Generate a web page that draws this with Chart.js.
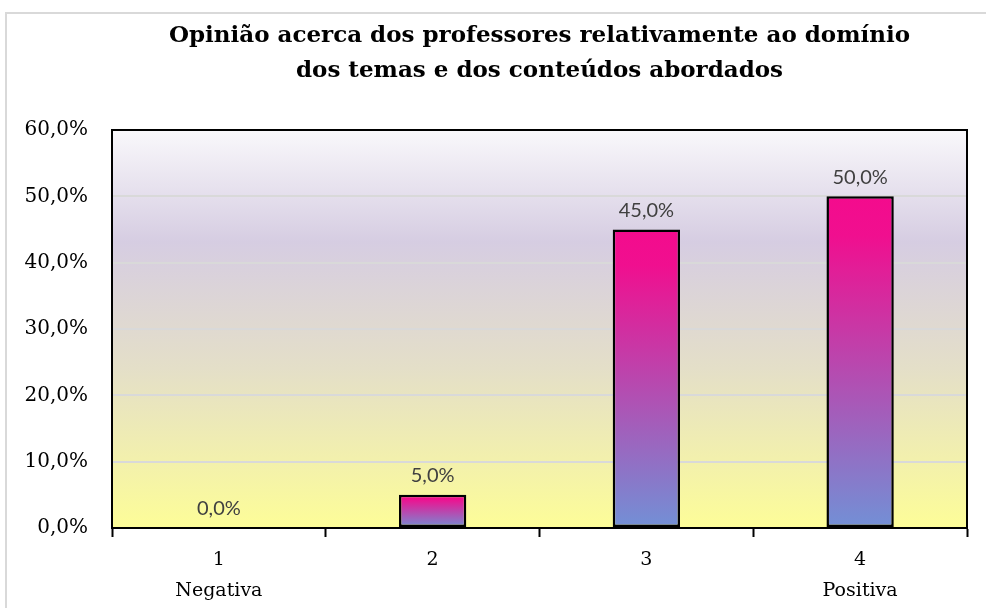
<!DOCTYPE html>
<html>
<head>
<meta charset="utf-8">
<script src="https://cdn.jsdelivr.net/npm/chart.js@4.4.1/dist/chart.umd.min.js"></script>
<style>
    html, body { margin: 0; padding: 0; background: #fff; }
    #wrap { position: relative; width: 986px; height: 608px; }
</style>
</head>
<body>
<div id="wrap"><canvas id="myChart"></canvas></div>
<script>
// data
let categories = [['1', 'Negativa'], ['2', ''], ['3', ''], ['4', 'Positiva']];
let percentages = [0, 5, 45, 50];
let yTicks = [0, 10, 20, 30, 40, 50, 60];
let chartTitle = ['Opinião acerca dos professores relativamente ao domínio', 'dos temas e dos conteúdos abordados'];

function formatPercent(v) {
    return v.toFixed(1).replace('.', ',') + '%';
}

function barGradient(context) {
    let chart = context.chart;
    let yScale = chart.scales.y;
    if (!yScale || !chart.chartArea) {
        return '#c0309f';
    }
    let top = yScale.getPixelForValue(context.raw);
    let bottom = yScale.getPixelForValue(0);
    if (bottom - top < 1) {
        return '#f20c8e';
    }
    let g = chart.ctx.createLinearGradient(0, top, 0, bottom);
    g.addColorStop(0, '#f40b8d');
    g.addColorStop(0.12, '#f00f8f');
    g.addColorStop(1, '#7290d6');
    return g;
}

const backgroundPlugin = {
    id: 'plotBackground',
    beforeDraw(chart) {
        let ctx = chart.ctx;
        let a = chart.chartArea;
        ctx.save();
        // outer frame of the chart object
        ctx.strokeStyle = '#d9d9d9';
        ctx.lineWidth = 2;
        ctx.strokeRect(6, 13, 990, 610);
        let g = ctx.createLinearGradient(0, a.top, 0, a.bottom);
        g.addColorStop(0, '#f9f8fb');
        g.addColorStop(0.28, '#d6cde2');
        g.addColorStop(0.6, '#e4dfc8');
        g.addColorStop(1, '#fdfd98');
        ctx.fillStyle = g;
        ctx.fillRect(a.left, a.top, a.right - a.left, a.bottom - a.top);
        ctx.restore();
    },
    afterDraw(chart) {
        let ctx = chart.ctx;
        let a = chart.chartArea;
        ctx.save();
        ctx.strokeStyle = '#000';
        ctx.lineWidth = 2;
        ctx.strokeRect(a.left, a.top, a.right - a.left, a.bottom - a.top);
        ctx.restore();
    }
};

const valueLabels = {
    id: 'valueLabels',
    afterDatasetsDraw(chart) {
        let ctx = chart.ctx;
        let meta = chart.getDatasetMeta(0);
        ctx.save();
        ctx.font = '20px Lato';
        ctx.fillStyle = '#404040';
        ctx.textAlign = 'center';
        ctx.textBaseline = 'bottom';
        meta.data.forEach((bar, i) => {
            ctx.fillText(formatPercent(percentages[i]), bar.x, bar.y - 9);
        });
        ctx.restore();
    }
};

const ctx = document.getElementById('myChart');
new Chart(ctx, {
    type: 'bar',
    data: {
        labels: categories,
        datasets: [{
            label: '',
            data: percentages,
            backgroundColor: barGradient,
            borderColor: '#000',
            borderWidth: 2.5,
            borderSkipped: false,
            categoryPercentage: 1,
            barPercentage: 0.315
        }]
    },
    options: {
        responsive: true,
        maintainAspectRatio: false,
        animation: false,
        devicePixelRatio: 1,
        layout: {
            padding: { left: 0, right: 19, top: 0, bottom: 0 }
        },
        plugins: {
            legend: { display: false },
            tooltip: { enabled: false },
            title: {
                display: true,
                fullSize: false,
                text: chartTitle,
                color: '#000',
                font: { family: 'DejaVu Serif', weight: 'bold', size: 23, lineHeight: 1.5 },
                padding: { top: 19, bottom: 42 }
            }
        },
        scales: {
            x: {
                grid: {
                    display: true,
                    drawOnChartArea: false,
                    drawTicks: true,
                    tickLength: 9,
                    tickColor: '#000',
                    tickWidth: 2,
                    offset: true
                },
                border: { display: true, color: '#000', width: 2 },
                ticks: {
                    color: '#000',
                    font: { family: 'DejaVu Serif', size: 19, lineHeight: 1.65 },
                    padding: 7,
                    maxRotation: 0
                },
                afterFit(scale) { scale.height = 80; }
            },
            y: {
                min: 0,
                max: 60,
                afterBuildTicks(scale) {
                    scale.ticks = yTicks.map(v => ({ value: v }));
                },
                grid: {
                    color: '#d9d9d9',
                    lineWidth: 2,
                    drawTicks: false
                },
                border: { display: true, color: '#000', width: 2 },
                ticks: {
                    color: '#000',
                    font: { family: 'DejaVu Serif', size: 20 },
                    padding: 24,
                    callback: v => formatPercent(v)
                },
                afterFit(scale) { scale.width = 112; }
            }
        }
    },
    plugins: [backgroundPlugin, valueLabels]
});
</script>
</body>
</html>
